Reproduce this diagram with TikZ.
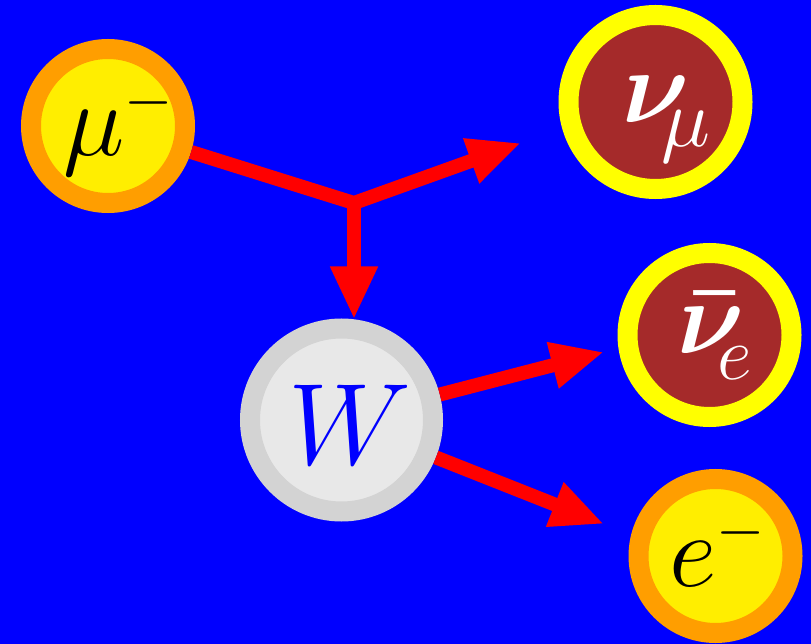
\documentclass[tikz,border=0pt]{standalone}
\usepackage{fix-cm}
\usepackage{bm}
\usetikzlibrary{arrows.meta}
\DeclareMathSizes{104}{104}{83}{62}
\DeclareMathSizes{116}{116}{92.8}{58}
\definecolor{bgblue}{RGB}{0,0,255}
\definecolor{ringorange}{RGB}{255,158,0}
\definecolor{coreyellow}{RGB}{255,238,0}
\definecolor{ringyellow}{RGB}{255,255,0}
\definecolor{corebrown}{RGB}{165,42,42}
\definecolor{ringgray}{RGB}{211,211,211}
\definecolor{coregray}{RGB}{232,232,232}
\definecolor{arrowred}{RGB}{255,0,0}
% place text: left edge dx from centre, baseline dy below centre
\newcommand{\ptext}[3]{\makebox[0pt][l]{\kern#1pt\raisebox{-#2pt}[0pt][0pt]{#3}}}
\tikzset{
  particle/.style={circle, inner sep=0pt, line width=20pt, font=\fontsize{104}{120}\selectfont},
  lepton/.style={particle, draw=ringorange, fill=coreyellow, text=black},
  neutrino/.style={particle, draw=ringyellow, fill=corebrown, text=white},
  boson/.style={particle, draw=ringgray, fill=coregray, text=bgblue, font=\fontsize{116}{130}\selectfont},
  flow/.style={draw=arrowred, line width=14pt, line join=miter},
  flowarrow/.style={flow, -{Triangle[length=53pt, width=44pt]}}
}
\begin{document}
\begin{tikzpicture}[x=1pt, y=-1pt]
  \fill[bgblue] (0,0) rectangle (811,644);
  \useasboundingbox (0,0) rectangle (811,644);
  \node[lepton, minimum size=154pt] (mu) at (108,126)
    {\ptext{-45}{30}{$\mu^{\scriptscriptstyle -}$}};
  \node[neutrino, minimum size=174pt] (numu) at (655.5,102)
    {\ptext{-33}{21}{$\bm{\nu}$\kern-28pt\raisebox{-24pt}{$\scriptstyle\mu$}}};
  \node[boson, minimum size=183pt] (W) at (341.5,420)
    {\ptext{-53}{44}{$W$}};
  \node[neutrino, minimum size=164pt] (nue) at (709.5,335)
    {\ptext{-32}{18}{$\bm{\bar{\nu}}$\kern-27pt\raisebox{-26pt}{\fontsize{76}{80}\selectfont$e$}}};
  \node[lepton, minimum size=154pt] (e) at (715.5,556)
    {\ptext{-46}{30}{$e^{\scriptscriptstyle -}$}};
  \coordinate (v) at (354,203);
  \coordinate (t1) at (521,143);
  \coordinate (t2) at (354,319.5);
  \coordinate (t3) at (604,352);
  \coordinate (t4) at (604,524);
  \draw[flowarrow] (mu) -- (v) -- (t1);
  \draw[flowarrow] (v) -- (t2);
  \draw[flowarrow] (W) -- (t3);
  \draw[flowarrow] (W) -- (t4);
\end{tikzpicture}
\end{document}
